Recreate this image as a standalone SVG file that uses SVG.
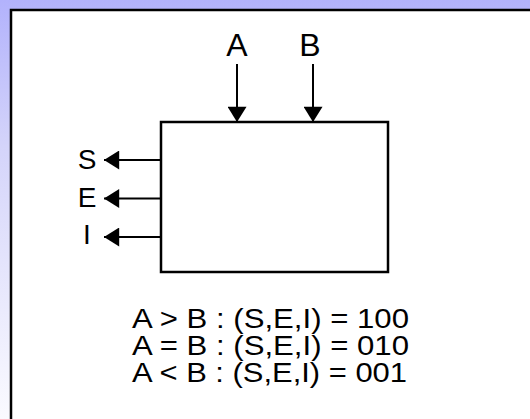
<svg xmlns="http://www.w3.org/2000/svg" width="530" height="419" viewBox="0 0 530 419">
  <style>
    .lbl { font-family: "Liberation Sans", Arial, sans-serif; fill: #000; }
    .wire { stroke: #000; stroke-width: 2; fill: none; }
    .block { fill: #fff; stroke: #000; stroke-width: 2.5; }
  </style>
  <defs>
    <linearGradient id="bg" x1="0" y1="0" x2="0" y2="1">
      <stop offset="0" stop-color="#b2b2fc"/>
      <stop offset="0.35" stop-color="#d4d4fa"/>
      <stop offset="1" stop-color="#fafaff"/>
    </linearGradient>
    <marker id="head" viewBox="0 0 16 20" refX="16" refY="10" markerWidth="16" markerHeight="19" markerUnits="userSpaceOnUse" orient="auto">
      <path d="M0,0 L16,10 L0,20 Z" fill="#000"/>
    </marker>
  </defs>

  <!-- backdrop and white panel -->
  <rect x="0" y="0" width="530" height="419" fill="url(#bg)"/>
  <rect x="11" y="10" width="530" height="420" fill="#fff" stroke="#000" stroke-width="2.5"/>

  <!-- comparator block -->
  <g id="comparator">
    <rect class="block" x="161" y="122" width="227" height="150"/>
  </g>

  <!-- port labels -->
  <g id="in-a"><text class="lbl" x="237" y="56" font-size="32" text-anchor="middle">A</text></g>
  <g id="in-b"><text class="lbl" x="310" y="56" font-size="32" text-anchor="middle">B</text></g>
  <g id="out-s"><text class="lbl" x="87" y="169" font-size="28" text-anchor="middle">S</text></g>
  <g id="out-e"><text class="lbl" x="87" y="207" font-size="28" text-anchor="middle">E</text></g>
  <g id="out-i"><text class="lbl" x="87" y="244" font-size="28" text-anchor="middle">I</text></g>

  <!-- signal lines -->
  <g id="connectors">
    <line class="wire" x1="237" y1="64" x2="237" y2="122" marker-end="url(#head)"/>
    <line class="wire" x1="313" y1="64" x2="313" y2="122" marker-end="url(#head)"/>
    <line class="wire" x1="161" y1="160" x2="104" y2="160" marker-end="url(#head)"/>
    <line class="wire" x1="161" y1="198.5" x2="104" y2="198.5" marker-end="url(#head)"/>
    <line class="wire" x1="161" y1="237" x2="104" y2="237" marker-end="url(#head)"/>
  </g>

  <!-- truth table -->
  <g id="truth-table">
    <text class="lbl" x="132" y="328" font-size="27" textLength="277" lengthAdjust="spacingAndGlyphs">A &gt; B : (S,E,I) = 100</text>
    <text class="lbl" x="132" y="355" font-size="27" textLength="277" lengthAdjust="spacingAndGlyphs">A = B : (S,E,I) = 010</text>
    <text class="lbl" x="132" y="382" font-size="27" textLength="275" lengthAdjust="spacingAndGlyphs">A &lt; B : (S,E,I) = 001</text>
  </g>
</svg>
